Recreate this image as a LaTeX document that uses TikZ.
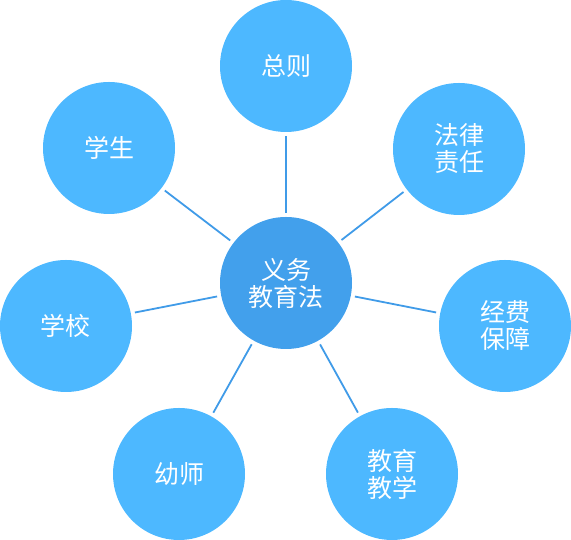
\documentclass[tikz,border=0pt]{standalone}
\usepackage{fontspec}
\newfontfamily\cjk{Noto Sans CJK SC}
\usetikzlibrary{positioning}
\definecolor{topicblue}{RGB}{77,184,255}
\definecolor{coreblue}{RGB}{66,160,236}
\definecolor{linkblue}{RGB}{64,155,232}
\tikzset{
  link/.style={linkblue,line width=1.8pt,shorten <=4pt,shorten >=4pt},
  topic/.style={circle,fill=topicblue,draw=none,minimum size=132pt,inner sep=0pt,
                align=center,text=white,font=\cjk\fontsize{25}{27}\selectfont},
  core/.style={topic,fill=coreblue},
}
\begin{document}
\begin{tikzpicture}[x=1pt,y=1pt]
  \path[use as bounding box] (0,0) rectangle (571,540);

  \node[core] (LAW) at (286,257) {义务\\教育法};

  \node[topic] (GEN) at (286,474) {总则};
  \node[topic] (LIA) at (459,391) {法律\\责任};
  \node[topic] (FUN) at (505,214) {经费\\保障};
  \node[topic] (TEA) at (392,66)  {教育\\教学};
  \node[topic] (PRE) at (179,66)  {幼师};
  \node[topic] (SCH) at (66,214)  {学校};
  \node[topic] (STU) at (109,392) {学生};

  \foreach \t in {GEN,LIA,FUN,TEA,PRE,SCH,STU}
    \draw[link] (LAW)--(\t);
\end{tikzpicture}
\end{document}
